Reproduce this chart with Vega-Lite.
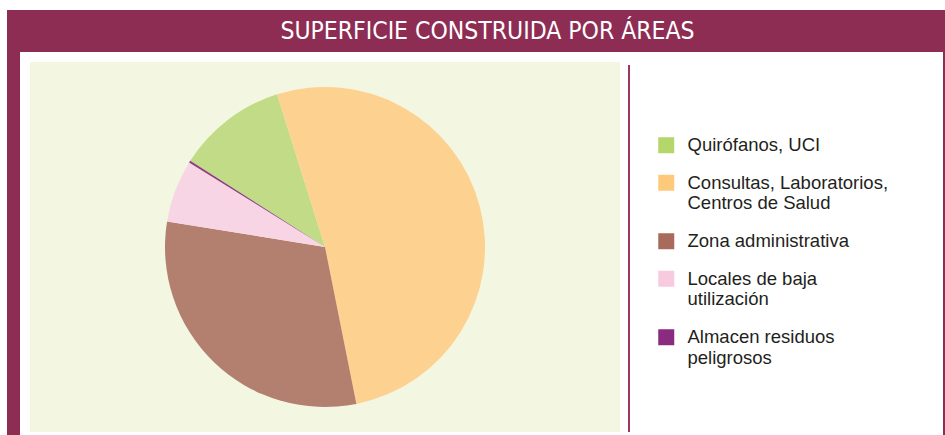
{
  "$schema": "https://vega.github.io/schema/vega-lite/v6.json",
  "background": "white",
  "padding": {"left": 7, "top": 10, "right": 0, "bottom": 0},
  "spacing": 0,
  "config": {"view": {"stroke": null}, "concat": {"spacing": 0}},
  "resolve": {"scale": {"color": "independent"}, "legend": {"color": "independent"}},
  "datasets": {
    "areas": [
      {"area": "Quirófanos, UCI", "pct": 11.1, "orden": 1},
      {"area": "Consultas, Laboratorios, Centros de Salud", "pct": 51.7, "orden": 2},
      {"area": "Zona administrativa", "pct": 30.7, "orden": 3},
      {"area": "Locales de baja utilización", "pct": 6.3, "orden": 4},
      {"area": "Almacen residuos peligrosos", "pct": 0.2, "orden": 5}
    ],
    "titulo": [{"t": "SUPERFICIE CONSTRUIDA POR ÁREAS"}],
    "vacio": []
  },
  "hconcat": [
    {
      "width": 13, "height": 425,
      "view": {"fill": "#8E2D53", "stroke": null},
      "data": {"name": "vacio"},
      "mark": "rect",
      "encoding": {}
    },
    {
      "spacing": 0,
      "resolve": {"scale": {"color": "independent"}, "legend": {"color": "independent"}},
      "vconcat": [
        {
          "width": 923, "height": 42,
          "view": {"fill": "#8E2D53", "stroke": null},
          "data": {"name": "titulo"},
          "mark": {"type": "text", "color": "white", "font": "DejaVu Sans Condensed, sans-serif", "fontSize": 24.5, "dx": 6, "dy": 1},
          "encoding": {"text": {"field": "t", "type": "nominal"}}
        },
        {
          "width": 923, "height": 10,
          "data": {"name": "vacio"},
          "mark": "rect",
          "encoding": {}
        },
        {
          "spacing": 0,
          "resolve": {"scale": {"color": "independent"}, "legend": {"color": "independent"}},
          "hconcat": [
            {
              "width": 10, "height": 370,
              "data": {"name": "vacio"},
              "mark": "rect",
              "encoding": {}
            },
            {
              "width": 590, "height": 370,
              "view": {"fill": "#F3F7E1", "stroke": null},
              "data": {"name": "areas"},
              "mark": {"type": "arc", "outerRadius": 160, "stroke": null},
              "encoding": {
                "theta": {"field": "pct", "type": "quantitative", "stack": true, "scale": {"range": [-1.0018, 5.2814]}},
                "order": {"field": "orden", "type": "quantitative"},
                "color": {
                  "field": "area", "type": "nominal",
                  "scale": {
                    "domain": ["Quirófanos, UCI", "Consultas, Laboratorios, Centros de Salud", "Zona administrativa", "Locales de baja utilización", "Almacen residuos peligrosos"],
                    "range": ["#C1DB87", "#FDD18F", "#B38070", "#F8D5E5", "#8B3A80"]
                  },
                  "legend": null
                }
              }
            },
            {
              "width": 8, "height": 370,
              "data": {"name": "vacio"},
              "mark": "rect",
              "encoding": {}
            },
            {
              "spacing": 0,
              "vconcat": [
                {
                  "width": 2, "height": 3,
                  "data": {"name": "vacio"},
                  "mark": "rect",
                  "encoding": {}
                },
                {
                  "width": 2, "height": 367,
                  "view": {"fill": "#9A3762", "stroke": null},
                  "data": {"name": "vacio"},
                  "mark": "rect",
                  "encoding": {}
                }
              ]
            },
            {
              "width": 313, "height": 370,
              "data": {"name": "areas"},
              "mark": {"type": "square", "size": 0},
              "encoding": {
                "color": {
                  "field": "area", "type": "nominal",
                  "scale": {
                    "domain": ["Quirófanos, UCI", "Consultas, Laboratorios, Centros de Salud", "Zona administrativa", "Locales de baja utilización", "Almacen residuos peligrosos"],
                    "range": ["#B5D66B", "#FDCA7B", "#A86B5B", "#F7CADF", "#8A2B7F"]
                  },
                  "legend": {
                    "title": null,
                    "orient": "none",
                    "legendX": 27,
                    "legendY": 74,
                    "symbolType": "square",
                    "symbolSize": 256,
                    "symbolOpacity": 1,
                    "symbolStrokeWidth": 0,
                    "labelFont": "Liberation Sans, Arial, sans-serif",
                    "labelFontSize": 18.5,
                    "labelColor": "#231F20",
                    "labelOffset": 12,
                    "labelLimit": 300,
                    "rowPadding": 18.5,
                    "labelExpr": "datum.label == 'Consultas, Laboratorios, Centros de Salud' ? ['Consultas, Laboratorios,', 'Centros de Salud'] : datum.label == 'Locales de baja utilización' ? ['Locales de baja', 'utilización'] : datum.label == 'Almacen residuos peligrosos' ? ['Almacen residuos', 'peligrosos'] : datum.label"
                  }
                }
              }
            }
          ]
        }
      ]
    },
    {
      "width": 2, "height": 425,
      "view": {"fill": "#8E2D53", "stroke": null},
      "data": {"name": "vacio"},
      "mark": "rect",
      "encoding": {}
    }
  ]
}
